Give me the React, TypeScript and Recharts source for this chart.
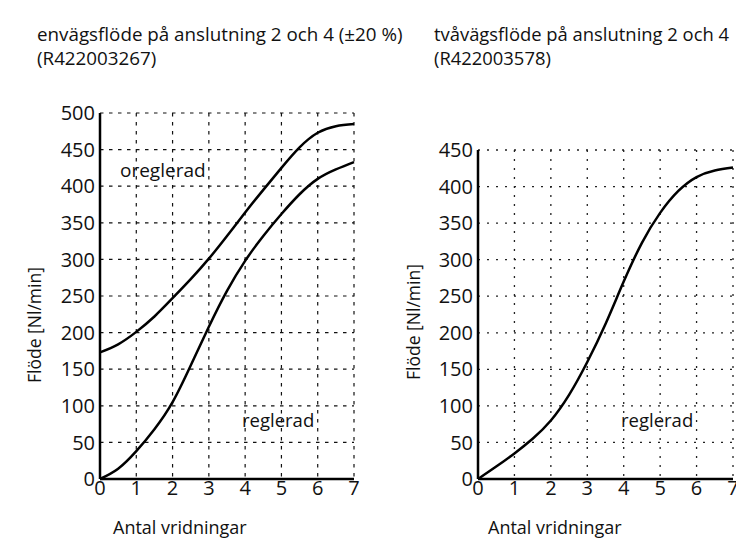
import React from 'react';
import { LineChart, Line, XAxis, YAxis, CartesianGrid } from 'recharts';

const FONT = '"Open Sans", "Noto Sans", sans-serif';

// Antal vridningar (x)
const turns = [0, 0.5, 1, 1.5, 2, 2.5, 3, 3.5, 4, 4.5, 5, 5.5, 6, 6.5, 7];
// envägsflöde, oreglerad / reglerad (Nl/min)
const oneWayUnregulated = [173, 184, 201, 222, 247, 273, 301, 332, 364, 395, 425, 453, 473, 482, 485];
const oneWayRegulated = [0, 14, 38, 68, 105, 155, 208, 257, 298, 332, 362, 389, 410, 423, 433];
// tvåvägsflöde, reglerad (Nl/min)
const twoWayRegulated = [0, 17, 35, 55, 80, 115, 160, 212, 270, 323, 364, 394, 413, 422, 426];

const xTicks = [0, 1, 2, 3, 4, 5, 6, 7];
const leftYTicks = [0, 50, 100, 150, 200, 250, 300, 350, 400, 450, 500];
const rightYTicks = [0, 50, 100, 150, 200, 250, 300, 350, 400, 450];

const leftData = turns.map((x, i) => ({ x, oreglerad: oneWayUnregulated[i], reglerad: oneWayRegulated[i] }));
const rightData = turns.map((x, i) => ({ x, reglerad: twoWayRegulated[i] }));

const tickStyle = { fontSize: 20, fill: '#111', fontFamily: FONT };
const axisLine = { stroke: '#000', strokeWidth: 2.5 };

export default function App() {
  return (
    <div style={{ position: 'relative', width: 744, height: 549, margin: -8, overflow: 'hidden', background: '#fff', fontFamily: FONT }}>
      <div style={{ position: 'absolute', left: 7, top: 7, width: 800, height: 600, borderLeft: '1.5px solid #333', borderTop: '1.5px solid #333' }} />

      <div style={{ position: 'absolute', left: 0, top: 0 }}>
        <LineChart width={380} height={549} data={leftData} margin={{ top: 113, right: 26, left: 40, bottom: 30 }}>
          <CartesianGrid stroke="#111" strokeWidth={1.2} strokeDasharray="3.5 5.5" />
          <XAxis dataKey="x" type="number" domain={[0, 7]} ticks={xTicks} interval={0} tickLine={false} tickSize={0} tickMargin={2} axisLine={axisLine} tick={tickStyle} height={40} />
          <YAxis type="number" domain={[0, 500]} ticks={leftYTicks} interval={0} tickLine={false} tickSize={0} tickMargin={5} axisLine={axisLine} tick={tickStyle} width={60} />
          <Line type="natural" dataKey="oreglerad" stroke="#000" strokeWidth={2.5} dot={false} isAnimationActive={false} />
          <Line type="natural" dataKey="reglerad" stroke="#000" strokeWidth={2.5} dot={false} isAnimationActive={false} />
        </LineChart>
      </div>

      <div style={{ position: 'absolute', left: 380, top: 0 }}>
        <LineChart width={364} height={549} data={rightData} margin={{ top: 150, right: 11, left: 38, bottom: 30 }}>
          <CartesianGrid stroke="#222" strokeWidth={1.3} strokeDasharray="2 7" />
          <XAxis dataKey="x" type="number" domain={[0, 7]} ticks={xTicks} interval={0} tickLine={false} tickSize={0} tickMargin={2} axisLine={axisLine} tick={tickStyle} height={40} />
          <YAxis type="number" domain={[0, 450]} ticks={rightYTicks} interval={0} tickLine={false} tickSize={0} tickMargin={5} axisLine={axisLine} tick={tickStyle} width={60} />
          <Line type="natural" dataKey="reglerad" stroke="#000" strokeWidth={2.5} dot={false} isAnimationActive={false} />
        </LineChart>
      </div>

      <svg width={744} height={549} style={{ position: 'absolute', left: 0, top: 0, pointerEvents: 'none' }} fontFamily={FONT} fill="#111">
        <text x={37} y={41} fontSize={18.8}>envägsflöde på anslutning 2 och 4 (±20 %)</text>
        <text x={37} y={65} fontSize={18.8}>(R422003267)</text>
        <text x={434} y={41} fontSize={18.4}>tvåvägsflöde på anslutning 2 och 4</text>
        <text x={434} y={65} fontSize={18.4}>(R422003578)</text>

        <text x={120} y={177} fontSize={19}>oreglerad</text>
        <text x={242} y={427} fontSize={18.5}>reglerad</text>
        <text x={621} y={427} fontSize={18.5}>reglerad</text>

        <text x={113} y={534} fontSize={18}>Antal vridningar</text>
        <text x={488} y={534} fontSize={18}>Antal vridningar</text>

        <text transform="translate(41,325) rotate(-90)" textAnchor="middle" fontSize={17.5}>Flöde [Nl/min]</text>
        <text transform="translate(420,322) rotate(-90)" textAnchor="middle" fontSize={17.5}>Flöde [Nl/min]</text>
      </svg>
    </div>
  );
}
